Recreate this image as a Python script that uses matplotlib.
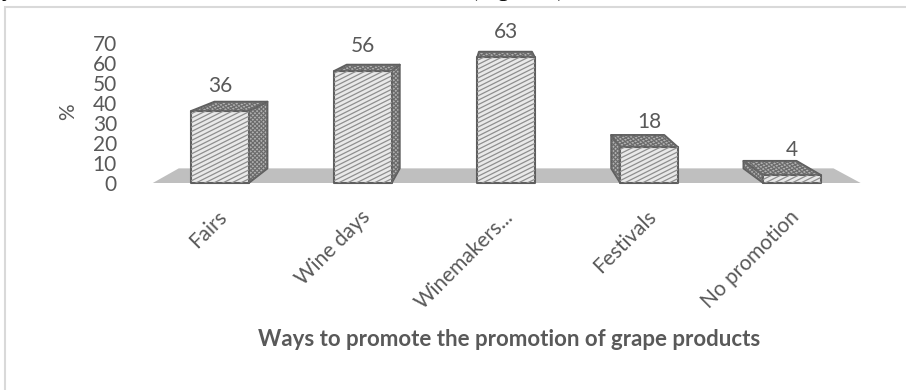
import numpy as np
import matplotlib
matplotlib.use("Agg")
import matplotlib.pyplot as plt
from matplotlib.patches import Polygon, Rectangle
from matplotlib.collections import LineCollection
from matplotlib.transforms import ScaledTranslation, IdentityTransform

# ---- data -------------------------------------------------------------
categories = ["Fairs", "Wine days", "Winemakers...", "Festivals", "No promotion"]
values = [36, 56, 63, 18, 4]
y_ticks = [0, 10, 20, 30, 40, 50, 60, 70]
y_label = "%"
x_title = "Ways to promote the promotion of grape products"

# ---- figure -----------------------------------------------------------
W, H, DPI = 906, 390, 100
plt.rcParams['font.family'] = ['Lato', 'DejaVu Sans']
TEXT = '#595959'
EDGE = '#5e5e5e'

fig = plt.figure(figsize=(W / DPI, H / DPI), dpi=DPI)
fig.patch.set_facecolor('white')

# front plane of the 3-D plot box (pixel placement of the axes)
left_px, right_px = 148.5, 863.5
floor_px, top_px = 183, 43
ax = fig.add_axes([left_px / W, 1 - floor_px / H,
                   (right_px - left_px) / W, (floor_px - top_px) / H])
ax.set_xlim(-0.5, 4.5)
ax.set_ylim(0, 70)
ax.patch.set_visible(False)
for s in ax.spines.values():
    s.set_visible(False)

# simple one-point perspective: points recede toward a vanishing point
vp_x, vp_y = 1.95, 97.5
depth = 0.075
bar_w = 0.4


def recede(x, y):
    return (x + depth * (vp_x - x), y + depth * (vp_y - y))


def pattern_lines(patch, slopes, spacing, color, lw, z):
    """Fill a patch with straight pattern lines (screen space), clipped to it."""
    verts = ax.transData.transform(patch.get_xy())
    (xmin, ymin), (xmax, ymax) = verts.min(0), verts.max(0)
    for slope in slopes:
        step = spacing * np.sqrt(1 + slope ** 2)
        span = (xmax - xmin) * abs(slope) + (ymax - ymin)
        offsets = np.arange(-span - step, span + step, step)
        segs = []
        for c in offsets:
            y0 = ymin + c
            segs.append([(xmin - 2, y0 - 2 * slope),
                         (xmax + 2, y0 + (xmax - xmin + 2) * slope)])
        lc = LineCollection(segs, colors=color, linewidths=lw,
                            transform=IdentityTransform(), zorder=z,
                            antialiased=True)
        lc.set_clip_path(patch)
        fig.add_artist(lc)


def face(points, fc, slopes, spacing, lc, z):
    base = Polygon(points, closed=True, facecolor=fc, edgecolor='none',
                   zorder=z, clip_on=False)
    ax.add_patch(base)
    pattern_lines(base, slopes, spacing, lc, 0.9, z + 0.05)
    ax.add_patch(Polygon(points, closed=True, fill=False, edgecolor=EDGE,
                         lw=1.5, joinstyle='round', zorder=z + 0.1,
                         clip_on=False))


# floor
fl, fr = -0.47, 4.48
ax.add_patch(Polygon([(fl, 0), (fr, 0), recede(fr, 0), recede(fl, 0)],
                     closed=True, facecolor='#bfbfbf', edgecolor='none',
                     zorder=1, clip_on=False))

# bars
DARK_BG, DARK_LN = '#b4b4b4', '#6a6a6a'
for i, v in enumerate(values):
    x0, x1 = i - bar_w / 2, i + bar_w / 2
    z = 2 + i * 0.5
    if x1 < vp_x:
        side = [(x1, 0), recede(x1, 0), recede(x1, v), (x1, v)]
        face(side, DARK_BG, [1.0, -1.0], 3.0, DARK_LN, z)
    elif x0 > vp_x:
        side = [(x0, 0), (x0, v), recede(x0, v), recede(x0, 0)]
        face(side, DARK_BG, [1.0, -1.0], 3.0, DARK_LN, z)
    top = [(x0, v), (x1, v), recede(x1, v), recede(x0, v)]
    face(top, DARK_BG, [0.5, -1.0], 3.0, DARK_LN, z + 0.2)
    front = [(x0, 0), (x1, 0), (x1, v), (x0, v)]
    face(front, '#e9e9e9', [0.5], 4.0, '#8e8e8e', z + 0.3)
    ax.annotate(str(v), xy=(i, v), xytext=(0, 24.5), textcoords='offset pixels',
                ha='center', va='center', fontsize=15, color=TEXT, zorder=10)

# axes ticks and labels
ax.set_yticks(y_ticks)
ax.tick_params(axis='y', length=0, pad=22.7, labelsize=15, labelcolor=TEXT)
ax.set_xticks(range(len(categories)), categories)
ax.tick_params(axis='x', length=0, pad=22.0, labelsize=15, labelcolor=TEXT)
shift = ScaledTranslation(4 / DPI, 0, fig.dpi_scale_trans)
for lab in ax.get_xticklabels():
    lab.set_rotation(45)
    lab.set_ha('right')
    lab.set_va('center')
    lab.set_rotation_mode('anchor')
    lab.set_transform(lab.get_transform() + shift)

fig.text(68 / W, 1 - 112 / H, y_label, rotation=90, ha='center', va='center',
         fontsize=15, color=TEXT)
fig.text(509 / W, 1 - 340 / H, x_title, ha='center', va='center',
         fontsize=16, fontweight='bold', color=TEXT)

# chart frame
fig.add_artist(Rectangle((5 / W, -0.2), 1.2, 1 - 7 / H + 0.2,
                         transform=fig.transFigure, fill=False,
                         edgecolor='#d9d9d9', lw=1.5))

# surrounding document line, only its lower part lies inside the image
fig.text(2 / W, 1 + 4 / H, "y", ha='left', va='baseline', fontsize=17,
         family='Liberation Serif', color='black')
fig.text(470 / W, 1 + 4 / H, "(Figure 4)", ha='left', va='baseline',
         fontsize=17, family='Liberation Serif', color='black')

fig.savefig('out.png', dpi=DPI)
